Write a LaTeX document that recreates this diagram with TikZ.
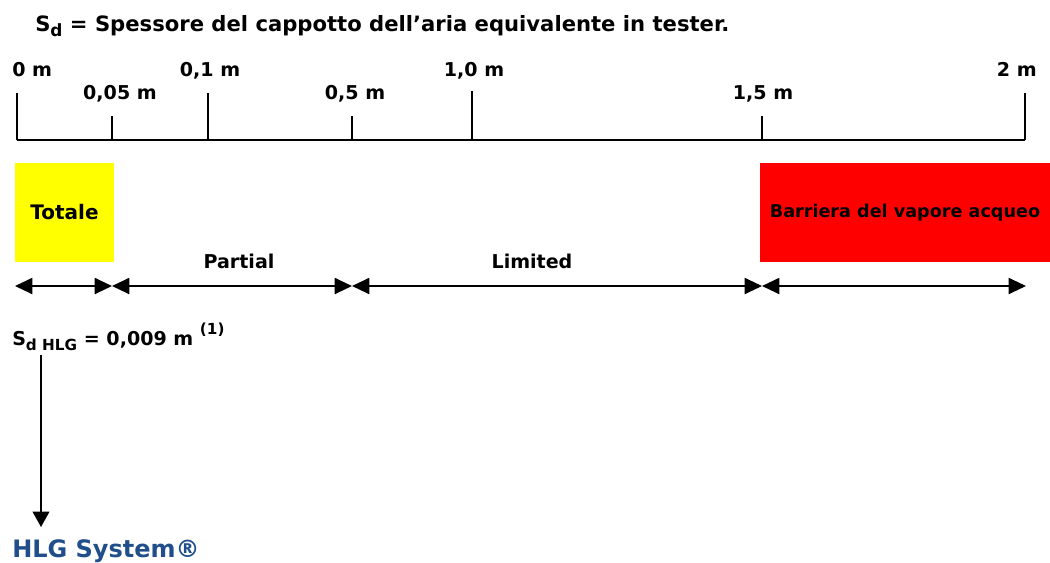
\documentclass[tikz,border=0pt]{standalone}
\usepackage{fontspec}
\setmainfont{DejaVu Sans}
\usetikzlibrary{arrows.meta}
\definecolor{hlgblue}{RGB}{31,78,138}
\definecolor{tyellow}{RGB}{255,255,0}
\definecolor{bred}{RGB}{255,0,0}
\newcommand\mysub[1]{\raisebox{-0.28em}{\fontsize{0.8em}{1em}\selectfont #1}}
\newcommand\mysup[1]{\raisebox{0.55em}{\fontsize{0.8em}{1em}\selectfont #1}}
\begin{document}
\begin{tikzpicture}[x=0.75pt,y=-0.75pt,
  lbl/.style={inner sep=0pt, font=\bfseries\fontsize{14.3}{16}\selectfont},
  ttl/.style={inner sep=0pt, font=\bfseries\fontsize{15.85}{18}\selectfont},
  axisline/.style={line width=2.2pt},
  spanarrow/.style={line width=1.5pt, {Triangle[length=13pt,width=12pt]}-{Triangle[length=13pt,width=12pt]}},
  downarrow/.style={line width=1.1pt, -{Triangle[length=11.5pt,width=12.5pt]}},
  colbox/.style={inner sep=0pt, font=\bfseries\fontsize{15}{17}\selectfont},
]
\useasboundingbox (0,0) rectangle (1050,562);

% title
\node[ttl, anchor=base west] (title) at (35,31) {S\mysub{d} = Spessore del cappotto dell’aria equivalente in tester.};

% axis
\coordinate (a0) at (17,140);
\coordinate (a005) at (112,140);
\coordinate (a01) at (208,140);
\coordinate (a05) at (352,140);
\coordinate (a10) at (472,140);
\coordinate (a15) at (762,140);
\coordinate (a20) at (1025,140);
\draw[axisline] (a0) -- (a20);
\draw[axisline] (a0) -- ++(0,-47);
\draw[axisline] (a005) -- ++(0,-24);
\draw[axisline] (a01) -- ++(0,-47);
\draw[axisline] (a05) -- ++(0,-24);
\draw[axisline] (a10) -- ++(0,-49);
\draw[axisline] (a15) -- ++(0,-24);
\draw[axisline] (a20) -- ++(0,-47);

% tick labels
\node[lbl, anchor=base west] (l0) at (12,76) {0 m};
\node[lbl, anchor=base] (l01) at (210,76) {0,1 m};
\node[lbl, anchor=base] (l10) at (474,76) {1,0 m};
\node[lbl, anchor=base east] (l20) at (1037,76) {2 m};
\node[lbl, anchor=base] (l005) at (120,99) {0,05 m};
\node[lbl, anchor=base] (l05) at (355,99) {0,5 m};
\node[lbl, anchor=base] (l15) at (763,99) {1,5 m};

% boxes
\node[colbox, fill=tyellow, minimum width=74.25pt, minimum height=74.25pt] (totale) at (64.5,212.5) {Totale};
\node[colbox, fill=bred, minimum width=217.5pt, minimum height=74.25pt, font=\bfseries\fontsize{13.2}{15}\selectfont] (barriera) at (905,212.5) {Barriera del vapore acqueo};

% spans
\coordinate (s0) at (15,286);
\coordinate (s1) at (112,286);
\coordinate (s2) at (352,286);
\coordinate (s3) at (762,286);
\coordinate (s4) at (1026,286);
\draw[spanarrow] (s0) -- (s1);
\draw[spanarrow] (s1) -- (s2);
\draw[spanarrow] (s2) -- (s3);
\draw[spanarrow] (s3) -- (s4);
\node[lbl, anchor=base] (partial) at (239,268) {Partial};
\node[lbl, anchor=base] (limited) at (532,268) {Limited};

% HLG value
\node[lbl, anchor=base west] (sdhlg) at (12,345) {S\mysub{d HLG} = 0,009 m \mysup{(1)}};
\coordinate (vstart) at (41,355);
\node[inner sep=0pt, anchor=base west, text=hlgblue, font=\bfseries\fontsize{18}{20}\selectfont] (hlg) at (12,557) {HLG System®};
\coordinate (vend) at (41,527);
\draw[downarrow] (vstart) -- (vend);
\end{tikzpicture}
\end{document}
